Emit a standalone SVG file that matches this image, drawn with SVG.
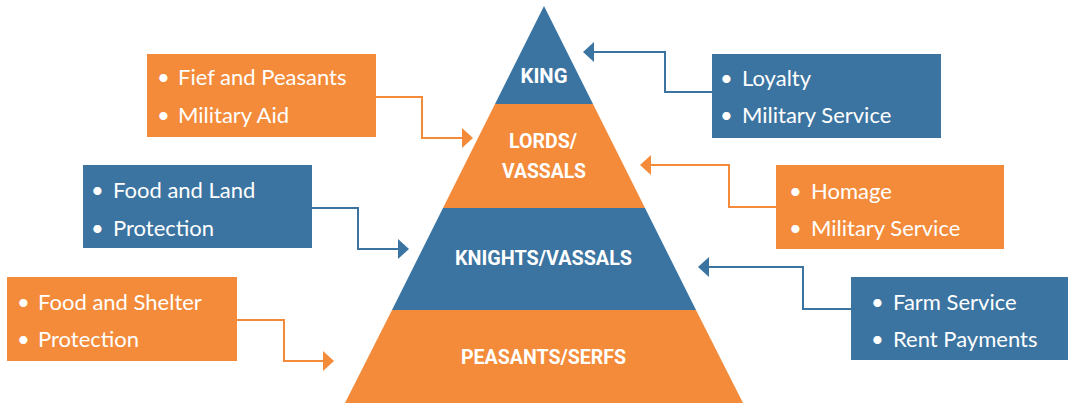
<svg xmlns="http://www.w3.org/2000/svg" width="1069" height="403" viewBox="0 0 1069 403">
<style>
.blue{fill:#3b74a0}
.orange{fill:#f38b3a}
.lvl{font-family:Roboto,"Liberation Sans",sans-serif;font-weight:bold;font-size:21px;fill:#fff;text-anchor:middle}
.item{font-family:Lato,"Liberation Sans",sans-serif;font-size:22px;fill:#fff}
.conn{fill:none;stroke-width:2}
.cb{stroke:#3b74a0}
.co{stroke:#f38b3a}
</style>
<defs>
<marker id="ab" viewBox="0 0 11 20" refX="10" refY="10" markerWidth="11" markerHeight="20" markerUnits="userSpaceOnUse" orient="auto"><path d="M0,0 L11,10 L0,20 Z" fill="#3b74a0"/></marker>
<marker id="ao" viewBox="0 0 11 20" refX="10" refY="10" markerWidth="11" markerHeight="20" markerUnits="userSpaceOnUse" orient="auto"><path d="M0,0 L11,10 L0,20 Z" fill="#f38b3a"/></marker>
</defs>
<g id="pyramid">
<g id="king"><polygon class="blue" points="544,6 593,104 495,104"/><text class="lvl" x="544" y="83" textLength="47" lengthAdjust="spacingAndGlyphs">KING</text></g>
<g id="lords"><polygon class="orange" points="495,104 593,104 645,208 443,208"/><text class="lvl" x="543" y="148" textLength="68" lengthAdjust="spacingAndGlyphs">LORDS/</text><text class="lvl" x="544" y="178" textLength="84" lengthAdjust="spacingAndGlyphs">VASSALS</text></g>
<g id="knights"><polygon class="blue" points="443,208 645,208 696,310 392,310"/><text class="lvl" x="543.5" y="265" textLength="177" lengthAdjust="spacingAndGlyphs">KNIGHTS/VASSALS</text></g>
<g id="peasants"><polygon class="orange" points="392,310 696,310 743,403 345,403"/><text class="lvl" x="543.5" y="364" textLength="165" lengthAdjust="spacingAndGlyphs">PEASANTS/SERFS</text></g>
</g>
<g id="box-fief"><rect class="orange" x="147" y="54" width="229" height="83"/><text class="item" x="157" y="85">•</text><text class="item" x="178" y="85">Fief and Peasants</text><text class="item" x="157" y="123">•</text><text class="item" x="178" y="123">Military Aid</text></g>
<g id="box-loyalty"><rect class="blue" x="712" y="54" width="229" height="84"/><text class="item" x="720" y="86">•</text><text class="item" x="742" y="86">Loyalty</text><text class="item" x="720" y="123">•</text><text class="item" x="742" y="123">Military Service</text></g>
<g id="box-food-land"><rect class="blue" x="83" y="165" width="229" height="83"/><text class="item" x="91" y="198">•</text><text class="item" x="113" y="198">Food and Land</text><text class="item" x="91" y="236">•</text><text class="item" x="113" y="236">Protection</text></g>
<g id="box-homage"><rect class="orange" x="776" y="165" width="228" height="84"/><text class="item" x="789" y="199">•</text><text class="item" x="811" y="199">Homage</text><text class="item" x="789" y="236">•</text><text class="item" x="811" y="236">Military Service</text></g>
<g id="box-food-shelter"><rect class="orange" x="7" y="277" width="230" height="84"/><text class="item" x="17" y="310">•</text><text class="item" x="38" y="310">Food and Shelter</text><text class="item" x="17" y="347">•</text><text class="item" x="38" y="347">Protection</text></g>
<g id="box-farm"><rect class="blue" x="851" y="277" width="217" height="83"/><text class="item" x="871" y="310">•</text><text class="item" x="893" y="310">Farm Service</text><text class="item" x="871" y="347">•</text><text class="item" x="893" y="347">Rent Payments</text></g>
<g id="connectors">
<polyline class="conn co" points="376,97 422,97 422,138 472,138" marker-end="url(#ao)"/>
<polyline class="conn cb" points="712,92 665,92 665,52 584,52" marker-end="url(#ab)"/>
<polyline class="conn cb" points="312,208 358,208 358,249 408,249" marker-end="url(#ab)"/>
<polyline class="conn co" points="776,207 729,207 729,165 641,165" marker-end="url(#ao)"/>
<polyline class="conn co" points="237,320 284,320 284,361 333,361" marker-end="url(#ao)"/>
<polyline class="conn cb" points="851,309 803,309 803,267 699,267" marker-end="url(#ab)"/>
</g>
</svg>
